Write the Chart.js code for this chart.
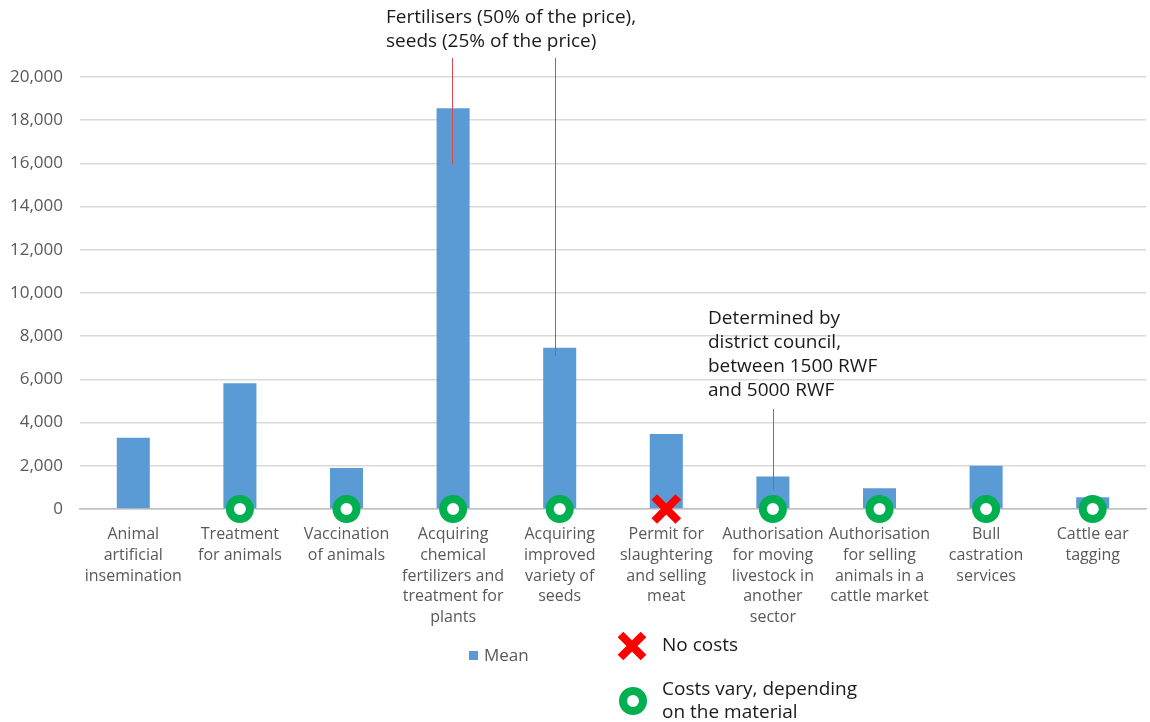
<!DOCTYPE html>
<html>
<head>
<meta charset="utf-8">
<title>Mean cost of services</title>
<script src="https://cdn.jsdelivr.net/npm/chart.js@4.4.1/dist/chart.umd.min.js"></script>
<style>
  html, body { margin: 0; padding: 0; background: #fff; }
  #wrap { width: 1150px; height: 722px; position: relative; }
</style>
</head>
<body>
<div id="wrap"><canvas id="costChart" width="1150" height="722"></canvas></div>
<script>
// services (multi-line axis labels)
const services = [
    ['Animal', 'artificial', 'insemination'],
    ['Treatment', 'for animals'],
    ['Vaccination', 'of animals'],
    ['Acquiring', 'chemical', 'fertilizers and', 'treatment for', 'plants'],
    ['Acquiring', 'improved', 'variety of', 'seeds'],
    ['Permit for', 'slaughtering', 'and selling', 'meat'],
    ['Authorisation', 'for moving', 'livestock in', 'another', 'sector'],
    ['Authorisation', 'for selling', 'animals in a', 'cattle market'],
    ['Bull', 'castration', 'services'],
    ['Cattle ear', 'tagging']
];

// mean cost per service
const meanCost = [3300, 5820, 1900, 18550, 7470, 3470, 1500, 960, 2000, 540];

// cost note per service: 'vary' = costs vary, 'none' = no costs, '' = nothing
const costNote = ['', 'vary', 'vary', 'vary', 'vary', 'none', 'vary', 'vary', 'vary', 'vary'];

const yTicks = [0, 2000, 4000, 6000, 8000, 10000, 12000, 14000, 16000, 18000, 20000];

// leader lines: category index, x nudge, top value, bottom value
const leaders = [
    { index: 3, nudge: -1, from: 25600, to: 15950 },
    { index: 4, nudge: -5, from: 25600, to: 7100 },
    { index: 6, nudge: 0, from: 4630, to: 880 }
];

const noteLines = [
    { x: 386, y: 18, text: 'Fertilisers (50% of the price),' },
    { x: 386, y: 42, text: 'seeds (25% of the price)' },
    { x: 708, y: 319, text: 'Determined by' },
    { x: 708, y: 343, text: 'district council,' },
    { x: 708, y: 367, text: 'between 1500 RWF' },
    { x: 708, y: 391, text: 'and 5000 RWF' }
];

const FONT = '"Open Sans", "Noto Sans", sans-serif';
const BLUE = '#5B9BD5';
const GREEN = '#00B050';
const RED = '#FF0000';

function drawRing(ctx, x, y) {
    ctx.beginPath();
    ctx.arc(x, y, 10, 0, Math.PI * 2);
    ctx.lineWidth = 8;
    ctx.strokeStyle = GREEN;
    ctx.fillStyle = '#fff';
    ctx.fill();
    ctx.stroke();
}

function drawCross(ctx, x, y) {
    const d = 11.5;
    ctx.beginPath();
    ctx.moveTo(x - d, y - d);
    ctx.lineTo(x + d, y + d);
    ctx.moveTo(x + d, y - d);
    ctx.lineTo(x - d, y + d);
    ctx.lineWidth = 8;
    ctx.lineCap = 'butt';
    ctx.strokeStyle = RED;
    ctx.stroke();
}

const notesPlugin = {
    id: 'notes',
    afterDatasetsDraw(chart) {
        const ctx = chart.ctx;
        const xs = chart.scales.x;
        const ys = chart.scales.y;
        ctx.save();
        // red leader lines
        ctx.strokeStyle = 'rgb(222, 70, 82)';
        ctx.lineWidth = 1;
        leaders.forEach(l => {
            const x = Math.round(xs.getPixelForValue(l.index) + l.nudge) + 0.5;
            const y1 = Math.max(ys.getPixelForValue(l.from), 58);
            ctx.beginPath();
            ctx.moveTo(x, y1);
            ctx.lineTo(x, ys.getPixelForValue(l.to));
            ctx.stroke();
        });
        ctx.restore();
    },
    afterDraw(chart) {
        const ctx = chart.ctx;
        ctx.save();
        ctx.font = '19px ' + FONT;
        ctx.fillStyle = '#1a1a1a';
        ctx.textBaseline = 'middle';
        ctx.textAlign = 'left';
        noteLines.forEach(n => ctx.fillText(n.text, n.x, n.y));

        // series legend
        ctx.fillStyle = BLUE;
        ctx.fillRect(469, 651, 9, 9);
        ctx.fillStyle = '#595959';
        ctx.font = '17px ' + FONT;
        ctx.fillText('Mean', 484, 656);

        // marker legend
        drawCross(ctx, 632, 646);
        drawRing(ctx, 633, 701);
        ctx.fillStyle = '#1a1a1a';
        ctx.font = '19px ' + FONT;
        ctx.fillText('No costs', 662, 646);
        ctx.fillText('Costs vary, depending', 662, 690);
        ctx.fillText('on the material', 662, 713);
        ctx.restore();
    }
};

const ctx = document.getElementById('costChart').getContext('2d');
const chart = new Chart(ctx, {
    type: 'bar',
    data: {
        labels: services,
        datasets: [
            {
                type: 'line',
                label: 'Costs vary',
                data: costNote.map(n => n === 'vary' ? 0 : null),
                showLine: false,
                pointStyle: 'circle',
                pointRadius: 10,
                pointBorderWidth: 8,
                pointBorderColor: GREEN,
                pointBackgroundColor: '#fff',
                clip: false,
                order: 0
            },
            {
                type: 'line',
                label: 'No costs',
                data: costNote.map(n => n === 'none' ? 0 : null),
                showLine: false,
                pointStyle: 'crossRot',
                pointRadius: 17,
                pointBorderWidth: 8,
                pointBorderColor: RED,
                clip: false,
                order: 0
            },
            {
                label: 'Mean',
                data: meanCost,
                backgroundColor: BLUE,
                categoryPercentage: 1,
                barPercentage: 0.31,
                order: 2
            }
        ]
    },
    options: {
        responsive: false,
        animation: false,
        layout: { autoPadding: false, padding: { top: 77, right: 4, left: 0, bottom: 0 } },
        plugins: {
            legend: { display: false },
            tooltip: { enabled: false }
        },
        scales: {
            x: {
                grid: { display: false },
                border: { display: true, color: '#bfbfbf', width: 1.5 },
                ticks: {
                    color: '#595959',
                    font: { family: FONT, size: 16, lineHeight: 1.3 },
                    padding: 7,
                    maxRotation: 0,
                    autoSkip: false
                },
                afterFit(scale) {
                    scale.height = 213;
                    scale.paddingLeft = 0;
                    scale.paddingRight = 0;
                }
            },
            y: {
                min: 0,
                max: 20000,
                afterBuildTicks(scale) { scale.ticks = yTicks.map(v => ({ value: v })); },
                grid: { color: '#d9d9d9', lineWidth: 1.5, drawTicks: false },
                border: { display: false },
                ticks: {
                    color: '#595959',
                    font: { family: FONT, size: 17 },
                    padding: 17,
                    callback: v => v.toLocaleString('en-US')
                },
                afterFit(scale) { scale.width = 80; }
            }
        }
    },
    plugins: [notesPlugin]
});
</script>
</body>
</html>
